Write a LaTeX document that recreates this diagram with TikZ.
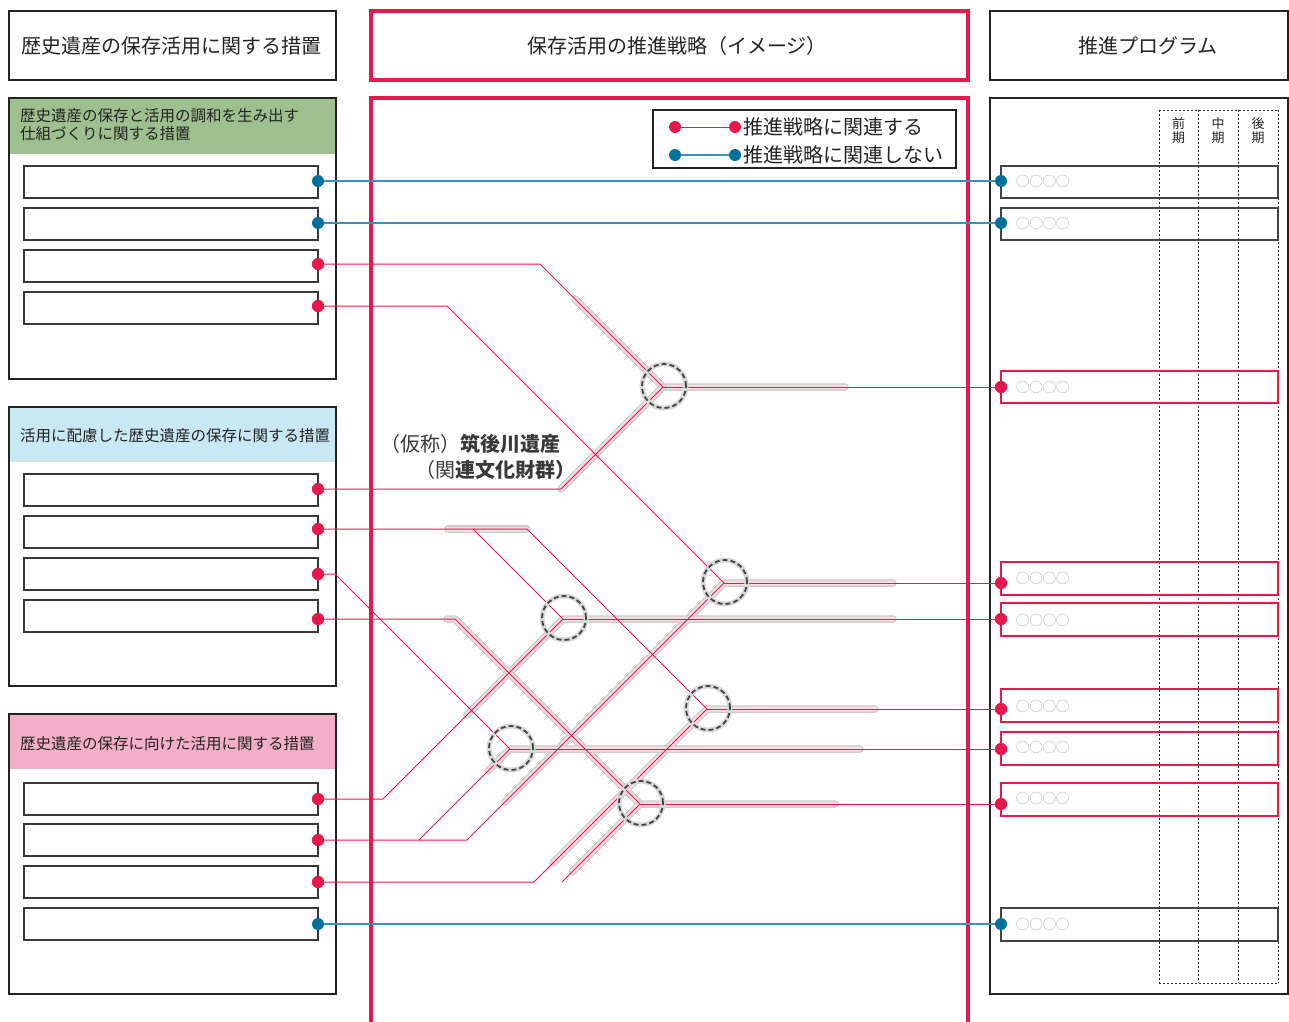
\documentclass[tikz,border=0pt]{standalone}
\usepackage{fontspec}
\setmainfont{Noto Sans CJK JP}
\usetikzlibrary{calc}
\definecolor{cred}{RGB}{232,24,74}
\definecolor{cblue}{RGB}{0,112,156}
\definecolor{lblue}{RGB}{60,145,180}
\definecolor{hgreen}{RGB}{157,192,142}
\definecolor{hblue}{RGB}{200,232,244}
\definecolor{hpink}{RGB}{243,174,200}
\definecolor{txt}{RGB}{35,35,35}
\newcommand\hlpath[1]{\draw[hlo] #1; \draw[hli] #1;}
\begin{document}
\begin{tikzpicture}[x=1pt,y=-1pt,
  blackbox/.style={draw=txt, line width=2pt},
  redbox/.style={draw=cred, line width=3.5pt},
  subbox/.style={draw=txt!90, line width=1.4pt},
  progred/.style={draw=cred, line width=2.4pt},
  progblk/.style={draw=txt!85, line width=1.6pt},
  rdot/.style={circle, fill=cred, inner sep=0pt, minimum size=12pt},
  bdot/.style={circle, fill=cblue, inner sep=0pt, minimum size=12pt},
  rline/.style={draw=cred, line width=1pt},
  bline/.style={draw=lblue, line width=1.2pt},
  hlo/.style={draw=gray!40, line width=7.5pt, line cap=round, line join=round},
  hli/.style={draw=cred!16, line width=5pt, line cap=round, line join=round},
  ringo/.style={draw=gray!30, line width=5pt},
  ring/.style={draw=txt!85, line width=1.8pt, dash pattern=on 5pt off 3pt},
  big/.style={font=\fontsize{20}{24}\selectfont, text=txt},
  mid/.style={font=\fontsize{15.5}{18}\selectfont, text=txt},
  circs/.style={font=\fontsize{13.3}{15}\selectfont, text=gray!70, anchor=west, inner sep=0pt},
  colh/.style={font=\fontsize{13}{14}\selectfont, text=txt, align=center},
  lab/.style={font=\fontsize{20}{23}\selectfont, text=txt!90}
]
\useasboundingbox (0,0) rectangle (1289,1021);

% ---------- top headers ----------
\draw[blackbox] (9,11) rectangle (336,80);
\node[big] (h1) at (171.5,45.5) {歴史遺産の保存活用に関する措置};
\draw[redbox] (371,11) rectangle (968,80);
\node[big] (h2) at (677,45.5) {保存活用の推進戦略（イメージ）};
\draw[blackbox] (990,11) rectangle (1288,80);
\node[big] (h3) at (1148,45.5) {推進プログラム};

% ---------- left panels ----------
\fill[hgreen] (9,98) rectangle (336,154);
\draw[blackbox] (9,98) rectangle (336,379);
\node[mid, anchor=north west, align=left, inner sep=0pt] (p1) at (20,108) {歴史遺産の保存と活用の調和を生み出す\\仕組づくりに関する措置};
\fill[hblue] (9,407) rectangle (336,462);
\draw[blackbox] (9,407) rectangle (336,686);
\node[mid, anchor=west, inner sep=0pt] (p2) at (20,435.5) {活用に配慮した歴史遺産の保存に関する措置};
\fill[hpink] (9,714) rectangle (336,769);
\draw[blackbox] (9,714) rectangle (336,994);
\node[mid, anchor=west, inner sep=0pt] (p3) at (20,743.5) {歴史遺産の保存に向けた活用に関する措置};

\foreach \y in {166,208,250,292, 474,516,558,600, 783,824,866,908}
  \draw[subbox] (24,\y) rectangle (318,\y+32);

% ---------- middle panel ----------
\draw[redbox] (371,1030) -- (371,98) -- (968,98) -- (968,1030);

% ---------- right panel ----------
\draw[blackbox] (990,98) rectangle (1288,994);
\draw[txt, line width=1pt, dash pattern=on 2pt off 2pt] (1159,110) -- (1278,110) (1159,983) -- (1278,983);
\foreach \x in {1159,1198,1238,1278}
  \draw[txt, line width=1pt, dash pattern=on 2pt off 2pt] (\x,110) -- (\x,983);
\node[colh] (c1) at (1178.5,131) {前\\期};
\node[colh] (c2) at (1218,131) {中\\期};
\node[colh] (c3) at (1258,131) {後\\期};

\draw[progblk] (1001,166) rectangle (1278,198);
\draw[progblk] (1001,208) rectangle (1278,240);
\draw[progred] (1001,371) rectangle (1278,403);
\draw[progred] (1001,562) rectangle (1278,595);
\draw[progred] (1001,603) rectangle (1278,636);
\draw[progred] (1001,689) rectangle (1278,722);
\draw[progred] (1001,732) rectangle (1278,765);
\draw[progred] (1001,783) rectangle (1278,816);
\draw[progblk] (1001,908) rectangle (1278,941);
\foreach \y/\n in {181/a,223/b,387/c,578/d,620/e,706/f,747/g,798/h,924/i}
  \node[circs] (o\n) at (1016,\y) {◯◯◯◯};

% ---------- legend ----------
\draw[txt, line width=2pt] (653,110) rectangle (956,168);
\node[rdot] (lg1a) at (675,127) {};
\node[rdot] (lg1b) at (735,127) {};
\node[bdot] (lg2a) at (675,155) {};
\node[bdot] (lg2b) at (735,155) {};
\draw[rline] (lg1a) -- (lg1b);
\draw[bline] (lg2a) -- (lg2b);
\node[big, anchor=west, inner sep=0pt] (lt1) at (743,127) {推進戦略に関連する};
\node[big, anchor=west, inner sep=0pt] (lt2) at (743,155) {推進戦略に関連しない};

% ---------- coordinates ----------
\coordinate (J1) at (663,387);
\coordinate (J2) at (724,583);
\coordinate (J3) at (563,619);
\coordinate (J4) at (707,709);
\coordinate (J5) at (510,749);
\coordinate (J6) at (640,804);

% ---------- highlights ----------
\hlpath{(575,299) -- (J1) -- (845,387)}
\hlpath{(J1) -- (561,489)}
\hlpath{(505,802) -- (J2) -- (893,583)}
\hlpath{(467,715) -- (J3) -- (893,619)}
\hlpath{(447,619) -- (455,619) -- (J6) -- (835,804)}
\hlpath{(J6) -- (572,872)}
\hlpath{(553,863) -- (J4) -- (875,709)}
\hlpath{(488,771) -- (J5) -- (860,749)}
\hlpath{(448,529) -- (527,529)}

% ---------- dots ----------
\node[bdot] (L1) at (318,181) {};
\node[bdot] (L2) at (318,223) {};
\node[rdot] (L3) at (318,264) {};
\node[rdot] (L4) at (318,306) {};
\node[rdot] (L5) at (318,489) {};
\node[rdot] (L6) at (318,529) {};
\node[rdot] (L7) at (318,574) {};
\node[rdot] (L8) at (318,619) {};
\node[rdot] (L9) at (318,799) {};
\node[rdot] (L10) at (318,840) {};
\node[rdot] (L11) at (318,882) {};
\node[bdot] (L12) at (318,924) {};

\node[bdot] (R1) at (1001,181) {};
\node[bdot] (R2) at (1001,223) {};
\node[rdot] (R3) at (1001,387) {};
\node[rdot] (R4) at (1001,583) {};
\node[rdot] (R5) at (1001,619) {};
\node[rdot] (R6) at (1001,709) {};
\node[rdot] (R7) at (1001,749) {};
\node[rdot] (R8) at (1001,804) {};
\node[bdot] (R9) at (1001,924) {};

% ---------- connectors ----------
\draw[bline] (L1) -- (R1);
\draw[bline] (L2) -- (R2);
\draw[bline] (L12) -- (R9);

\draw[rline] (L3.center) -- (540,264) -- (J1);
\draw[rline] (L5.center) -- (561,489) -- (J1);
\draw[rline] (J1) -- (R3.center);
\draw[rline] (L4.center) -- (447,306) -- (J2);
\draw[rline] (L10.center) -- (467,840) -- (J2);
\draw[rline] (J2) -- (R4.center);
\draw[rline] (L6.center) -- (473,529) -- (J3);
\draw[rline] (L9.center) -- (383,799) -- (J3);
\draw[rline] (J3) -- (R5.center);
\draw[rline] (473,529) -- (527,529) -- (J4);
\draw[rline] (L11.center) -- (534,882) -- (J4);
\draw[rline] (J4) -- (R6.center);
\draw[rline] (L7.center) -- (335,574) -- (J5);
\draw[rline] (419,840) -- (J5);
\draw[rline] (J5) -- (R7.center);
\draw[rline] (L8.center) -- (455,619) -- (J6);
\draw[rline] (562,882) -- (J6);
\draw[rline] (J6) -- (R8.center);

% redraw dots on top
\foreach \n in {L3,L4,L5,L6,L7,L8,L9,L10,L11,R3,R4,R5,R6,R7,R8}
  \fill[cred] (\n) circle (6pt);

% ---------- junction rings ----------
\foreach \j in {J1,J2,J3,J4,J5,J6} {
  \draw[ringo] ($(\j)+(1,-1)$) circle (22pt);
  \draw[ring] ($(\j)+(1,-1)$) circle (22pt);
}

% ---------- label ----------
\node[lab, anchor=east, inner sep=0pt] (n1) at (561,444) {（仮称）\bfseries 筑後川遺産};
\node[lab, anchor=east, inner sep=0pt] (n2) at (576,470) {（関\bfseries 連文化財群）};
\end{tikzpicture}
\end{document}
